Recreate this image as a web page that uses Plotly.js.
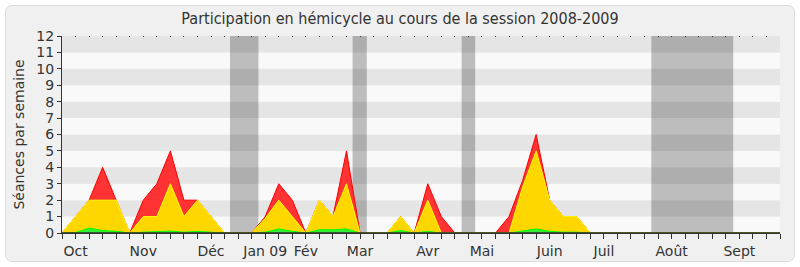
<!DOCTYPE html>
<html>
<head>
<meta charset="utf-8">
<script src="https://cdn.plot.ly/plotly-3.0.1.min.js"></script>
<style>
  html, body { margin: 0; padding: 0; background: #ffffff; }
  #frame { position: absolute; left: 5px; top: 5px; width: 788px; height: 255px;
           background: #f0f0f0; border: 1px solid #dcdcdc; border-radius: 7px; }
  #chart { position: absolute; left: 0; top: 0; width: 800px; height: 267px; }
</style>
</head>
<body>
<div id="frame"></div>
<div id="chart"></div>
<script>
// Weekly index 0..53 (session 2008-2009)
const weeks = Array.from({length: 54}, (_, i) => i);

// Red: total séances (upper envelope)
const redValues = [0,1,2,4,2,0,2,3,5,2,2,1,0,0,0,1,3,2,0,2,1,5,0,0,0,1,0,3,1,0,0,0,0,1,3.2,6,2,1,1,0,0,0,0,0,0,0,0,0,0,0,0,0,0,0];
// Yellow: middle series
const yellowValues = [0,1,2,2,2,0,1,1,3,1,2,1,0,0,0,0.9,2,1,0,2,1,3,0,0,0,1,0,2,0,0,0,0,0,0,2.8,5,2,1,1,0,0,0,0,0,0,0,0,0,0,0,0,0,0,0];
// Green: bottom series
const greenValues = [0,0.03,0.3,0.15,0.1,0,0.05,0.1,0.12,0.05,0.1,0.05,0,0,0,0.05,0.25,0.1,0,0.2,0.2,0.25,0,0,0,0.15,0,0.1,0,0,0,0,0,0,0.12,0.25,0.1,0.05,0.05,0,0,0,0,0,0,0,0,0,0,0,0,0,0,0];

// Month labels and their week positions
const monthLabels = ["Oct","Nov","Déc","Jan 09","Fév","Mar","Avr","Mai","Juin","Juil","Août","Sept"];
const monthWeeks  = [1,6,11,15,18,22,27,31,36,40,45,50];

// Vacation periods (week start, week end)
const vacStart = [12.4, 21.45, 29.5, 43.5];
const vacEnd   = [14.5, 22.5, 30.5, 49.55];

const yMax = 12;
const xMax = 53;

const tickText = weeks.map(w => {
  const k = monthWeeks.indexOf(w);
  return k >= 0 ? monthLabels[k] : "";
});

const shapes = [];
for (let k = 0; k < yMax; k++) {
  shapes.push({type: 'rect', xref: 'paper', yref: 'y', x0: 0, x1: 1, y0: k, y1: k + 1,
    fillcolor: (k % 2 === 1) ? '#e5e5e5' : '#f9f9f9', line: {width: 0}, layer: 'below'});
}
for (let k = 0; k < vacStart.length; k++) {
  shapes.push({type: 'rect', xref: 'x', yref: 'paper', x0: vacStart[k], x1: vacEnd[k], y0: 0, y1: 1,
    fillcolor: 'rgba(0,0,0,0.24)', line: {width: 0}, layer: 'below'});
}
// dark baseline drawn above the series
shapes.push({type: 'line', xref: 'paper', yref: 'y', x0: 0, x1: 1, y0: 0, y1: 0,
  line: {color: '#3a2626', width: 1.5}, layer: 'above'});

const traces = [
  {x: weeks, y: redValues, type: 'scatter', mode: 'lines', fill: 'tozeroy',
   fillcolor: '#ff3333', line: {color: '#ff0000', width: 1}, hoverinfo: 'skip'},
  {x: weeks, y: yellowValues, type: 'scatter', mode: 'lines', fill: 'tozeroy',
   fillcolor: '#ffd700', line: {color: '#ffff00', width: 1}, hoverinfo: 'skip'},
  {x: weeks, y: greenValues, type: 'scatter', mode: 'lines', fill: 'tozeroy',
   fillcolor: '#33ee33', line: {color: '#00ff00', width: 1}, hoverinfo: 'skip'},
  {x: [0], y: [0], xaxis: 'x2', yaxis: 'y', type: 'scatter', mode: 'none', hoverinfo: 'skip', showlegend: false}
];

const font = {family: 'DejaVu Sans, Verdana, sans-serif', size: 14, color: '#333333'};

const layout = {
  width: 800, height: 267,
  margin: {l: 62, r: 20, t: 36, b: 34, pad: 0},
  paper_bgcolor: 'rgba(0,0,0,0)',
  plot_bgcolor: 'rgba(0,0,0,0)',
  showlegend: false,
  font: font,
  title: {text: 'Participation en hémicycle au cours de la session 2008-2009',
          font: {family: 'DejaVu Sans Condensed, Liberation Sans, sans-serif', size: 16, color: '#333333'},
          x: 0.5, xanchor: 'center', y: 1 - 18/267, yanchor: 'middle', yref: 'container'},
  xaxis: {range: [0, xMax], tickmode: 'array', tickvals: weeks, ticktext: tickText,
          ticks: 'outside', ticklen: 5, tickcolor: '#333333', tickwidth: 1,
          showgrid: false, zeroline: false, showline: true, linecolor: '#333333', linewidth: 1,
          tickfont: font, fixedrange: true},
  xaxis2: {range: [0, xMax], overlaying: 'x', side: 'top', tickmode: 'linear', tick0: 0, dtick: 1,
           ticks: 'inside', ticklen: 1, tickcolor: '#333333', showticklabels: false,
           showgrid: false, zeroline: false, showline: false},
  yaxis: {range: [0, yMax], tickmode: 'linear', tick0: 0, dtick: 1,
          ticks: 'outside', ticklen: 4, tickcolor: '#333333',
          showgrid: false, zeroline: false, showline: true, linecolor: '#333333', linewidth: 1,
          tickfont: font,
          title: {text: 'Séances par semaine', font: font, standoff: 8}},
  shapes: shapes
};

Plotly.newPlot('chart', traces, layout, {staticPlot: true, displayModeBar: false});
</script>
</body>
</html>
